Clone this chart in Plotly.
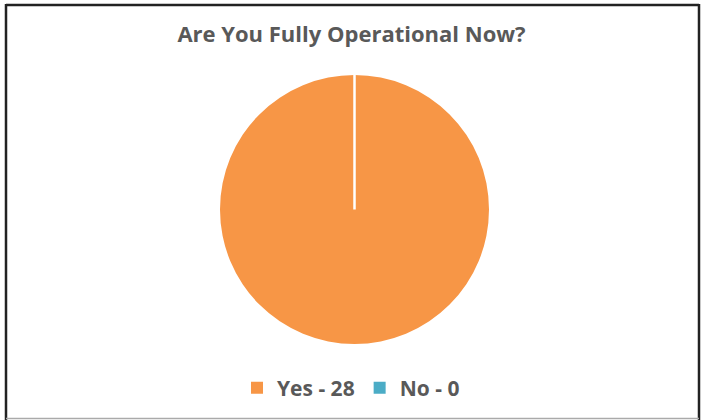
import plotly.graph_objects as go

categories = ["Yes", "No"]
counts = [28, 0]
slice_colors = ["#F79646", "#4BACC6"]
title_text = "Are You Fully Operational Now?"

labels = [f"{c} - {v}" for c, v in zip(categories, counts)]

fig = go.Figure(go.Pie(
    labels=labels,
    values=counts,
    sort=False,
    direction="clockwise",
    rotation=0,
    textinfo="none",
    hoverinfo="label+value",
    marker=dict(colors=slice_colors, line=dict(color="white", width=0)),
    showlegend=True,
))

L, R, T, B = 205, 200, 75, 76
W, H = 704, 420
pw, ph = W - L - R, H - T - B

def px_x(x):
    return (x - L) / pw

def px_y(y):
    return (H - B - y) / ph

shapes = [
    # slice boundary from centre to top (start angle of the pie)
    dict(type="line", xref="paper", yref="paper", x0=0.5, y0=0.5, x1=0.5, y1=1.0,
         line=dict(color="white", width=2.5), layer="above"),
    # chart frame
    dict(type="line", xref="paper", yref="paper", x0=px_x(6), y0=px_y(5), x1=px_x(699), y1=px_y(5),
         line=dict(color="#222222", width=2.5)),
    dict(type="line", xref="paper", yref="paper", x0=px_x(6), y0=px_y(4), x1=px_x(6), y1=px_y(420),
         line=dict(color="#222222", width=2.5)),
    dict(type="line", xref="paper", yref="paper", x0=px_x(699), y0=px_y(4), x1=px_x(699), y1=px_y(420),
         line=dict(color="#222222", width=2.5)),
    dict(type="line", xref="paper", yref="paper", x0=px_x(6), y0=px_y(418.5), x1=px_x(699), y1=px_y(418.5),
         line=dict(color="#AAAAAA", width=1.5)),
]

fig.update_layout(
    width=W, height=H,
    margin=dict(l=L, r=R, t=T, b=B),
    paper_bgcolor="white",
    plot_bgcolor="white",
    title=dict(text=title_text, x=351.5 / W, xanchor="center",
               y=1 - 34 / H, yanchor="middle",
               font=dict(family="Open Sans", size=22, weight=700, color="#595959")),
    legend=dict(orientation="h", x=px_x(351), xanchor="center",
                y=px_y(388), yanchor="middle",
                font=dict(family="Open Sans", size=21, weight=700, color="#595959"),
                itemclick=False),
    shapes=shapes,
)

fig.write_html("out.html", config={"displayModeBar": False},
               post_script="document.body.style.margin='0';document.body.style.overflow='hidden';")
